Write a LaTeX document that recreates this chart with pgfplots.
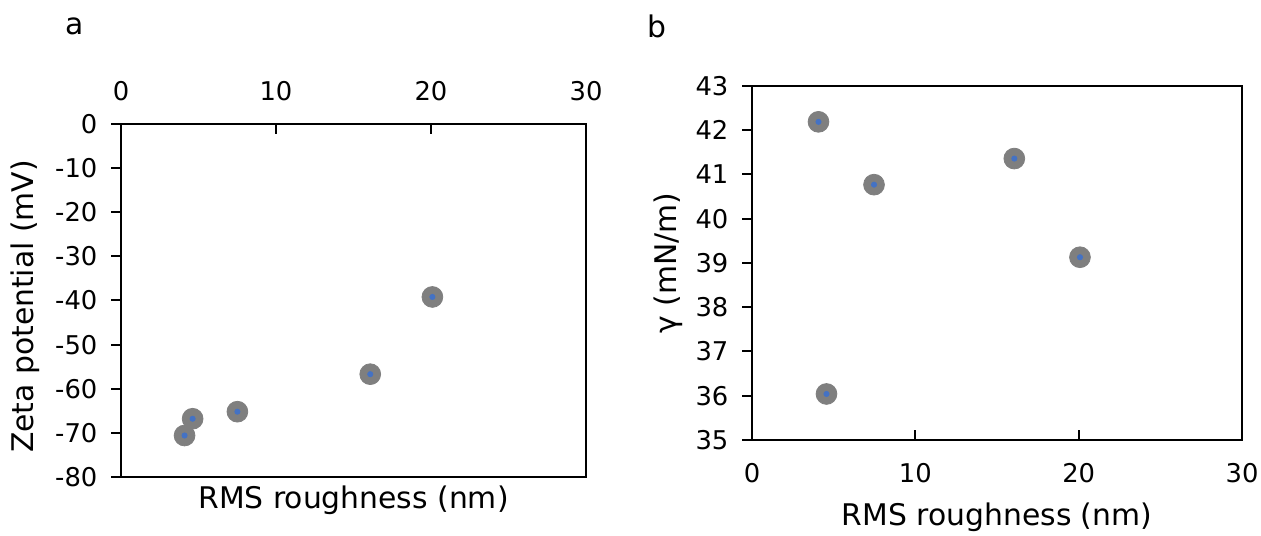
\documentclass[border=0pt]{standalone}
\usepackage{fontspec}
\setmainfont{DejaVu Sans}
\usepackage{pgfplots}
\pgfplotsset{compat=1.18}

\definecolor{markgrey}{HTML}{7F7F7F}
\definecolor{markblue}{HTML}{4472C4}

\pgfplotsset{
  panel/.style={
    scale only axis,
    anchor=north west,
    xmin=0, xmax=30, xtick={0,10,20,30},
    axis line style={line width=1.1pt},
    every tick/.style={black, line width=1pt},
    major tick length=4.8pt,
    ytick align=outside,
    xtick align=inside,
    ytick pos=left,
    tick label style={font=\fontsize{12.9}{15}\selectfont},
    label style={font=\fontsize{14.9}{17}\selectfont},
    /pgf/number format/assume math mode=true,
    yticklabel style={xshift=-3.5pt},
    clip=false,
  },
  grey dots/.style={only marks, mark=*, mark size=5.2pt, mark options={draw=markgrey, fill=markgrey}},
  blue dots/.style={only marks, mark=*, mark size=1.3pt, mark options={draw=markblue, fill=markblue}},
}

\begin{document}
\begin{tikzpicture}
\path[use as bounding box] (0,0) rectangle (630.5pt,-267.5pt);
\node[font=\fontsize{14.9}{17}\selectfont] at (37.5pt,-13pt) {a};
\node[font=\fontsize{14.9}{17}\selectfont] at (328.5pt,-13pt) {b};

% panel a
\begin{axis}[panel,
  at={(60.5pt,-62pt)},
  width=232.5pt, height=176.5pt,
  ymin=-80, ymax=0, ytick={-80,-70,...,0},
  xtick pos=right, xticklabel pos=right,
  xticklabel style={yshift=8pt},
  xlabel={RMS roughness (nm)},
  xlabel style={at={(axis description cs:0.5,0)}, anchor=north, yshift=-1pt},
  ylabel={Zeta potential (mV)},
  ylabel style={at={(axis description cs:0,0.5)}, anchor=center, yshift=48pt, xshift=-3pt},
]
\addplot[grey dots] coordinates {(4.10,-70.6) (4.62,-66.8) (7.51,-65.2) (16.08,-56.7) (20.09,-39.2)};
\addplot[blue dots] coordinates {(4.10,-70.6) (4.62,-66.8) (7.51,-65.2) (16.08,-56.7) (20.09,-39.2)};
\end{axis}

% panel b
\begin{axis}[panel,
  at={(376pt,-43pt)},
  width=245pt, height=177pt,
  ymin=35, ymax=43, ytick={35,36,...,43},
  xtick pos=left, xticklabel pos=left,
  xticklabel style={yshift=-8pt},
  xlabel={RMS roughness (nm)},
  xlabel style={at={(axis description cs:0.5,0)}, anchor=center, yshift=-38.5pt},
  ylabel={γ (mN/m)},
  ylabel style={at={(axis description cs:0,0.5)}, anchor=center, yshift=42pt},
]
\addplot[grey dots] coordinates {(4.07,42.19) (4.56,36.04) (7.47,40.77) (16.06,41.36) (20.08,39.13)};
\addplot[blue dots] coordinates {(4.07,42.19) (4.56,36.04) (7.47,40.77) (16.06,41.36) (20.08,39.13)};
\end{axis}
\end{tikzpicture}
\end{document}
